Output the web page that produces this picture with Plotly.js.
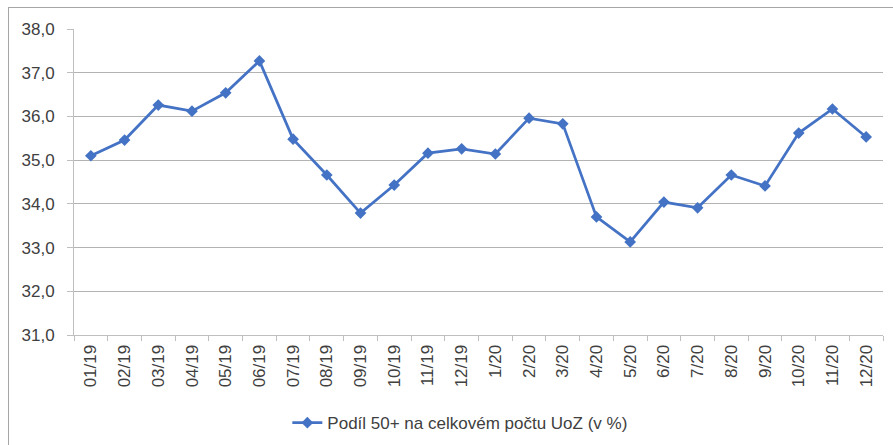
<!DOCTYPE html>
<html>
<head>
<meta charset="utf-8">
<script src="https://cdn.plot.ly/plotly-3.0.1.min.js"></script>
<style>
  html, body { margin: 0; padding: 0; background: #fff; overflow: hidden; width: 893px; height: 445px; }
  #frame { position: absolute; left: 8px; top: 7px; width: 885px; height: 438px; border-top: 1px solid #a6a6a6; border-left: 1px solid #a6a6a6; box-sizing: border-box; }
  #chart { position: absolute; left: 9px; top: 8px; width: 884px; height: 437px; }
</style>
</head>
<body>
<div id="frame"></div>
<div id="chart"></div>
<script>
// months 2019-2020, labels as in the source chart
var months = ['01/19', '02/19', '03/19', '04/19', '05/19', '06/19', '07/19', '08/19', '09/19', '10/19', '11/19', '12/19',
              '1/20', '2/20', '3/20', '4/20', '5/20', '6/20', '7/20', '8/20', '9/20', '10/20', '11/20', '12/20'];
// share of 50+ among registered unemployed (%)
var share50 = [35.1, 35.46, 36.26, 36.12, 36.54, 37.27, 35.48, 34.66, 33.79, 34.43, 35.16, 35.26,
               35.14, 35.96, 35.83, 33.70, 33.13, 34.04, 33.91, 34.66, 34.41, 35.62, 36.17, 35.53];
var seriesName = 'Podíl 50+ na celkovém počtu UoZ (v %)';

var blue = '#4472c4';
var txt = '#404040';

var data = [{
  type: 'scatter',
  mode: 'lines+markers',
  x: months,
  y: share50,
  name: seriesName,
  line: {color: blue, width: 2.75},
  marker: {symbol: 'diamond', size: 9, color: blue},
  showlegend: true
}];

var layout = {
  width: 884,
  height: 437,
  margin: {l: 65, r: 10, t: 21, b: 110},
  paper_bgcolor: 'rgba(0,0,0,0)',
  plot_bgcolor: '#fff',
  separators: ',.',
  font: {family: 'Liberation Sans, Arial, sans-serif', size: 17, color: txt},
  xaxis: {
    type: 'category',
    range: [-0.5, months.length - 0.5],
    autorange: false,
    tickangle: -90,
    ticks: 'outside',
    tickson: 'boundaries',
    ticklen: 5,
    tickcolor: '#bfbfbf',
    showline: true,
    linecolor: '#bfbfbf',
    showgrid: false,
    zeroline: false,
    automargin: false,
    ticklabelstandoff: 2,
    tickfont: {size: 17, color: txt}
  },
  yaxis: {
    range: [31, 38],
    autorange: false,
    dtick: 1,
    tickformat: '.1f',
    ticks: 'outside',
    ticklen: 6,
    tickcolor: '#bfbfbf',
    showline: true,
    linecolor: '#bfbfbf',
    gridcolor: '#b3b3b3',
    gridwidth: 1,
    zeroline: false,
    automargin: false,
    ticklabelstandoff: 9,
    tickfont: {size: 17, color: txt}
  },
  legend: {
    orientation: 'h',
    xref: 'container',
    yref: 'container',
    x: 0.51,
    xanchor: 'center',
    y: 0.05,
    yanchor: 'middle',
    font: {size: 17, color: txt}
  }
};

Plotly.newPlot('chart', data, layout, {displayModeBar: false, staticPlot: true});
</script>
</body>
</html>
